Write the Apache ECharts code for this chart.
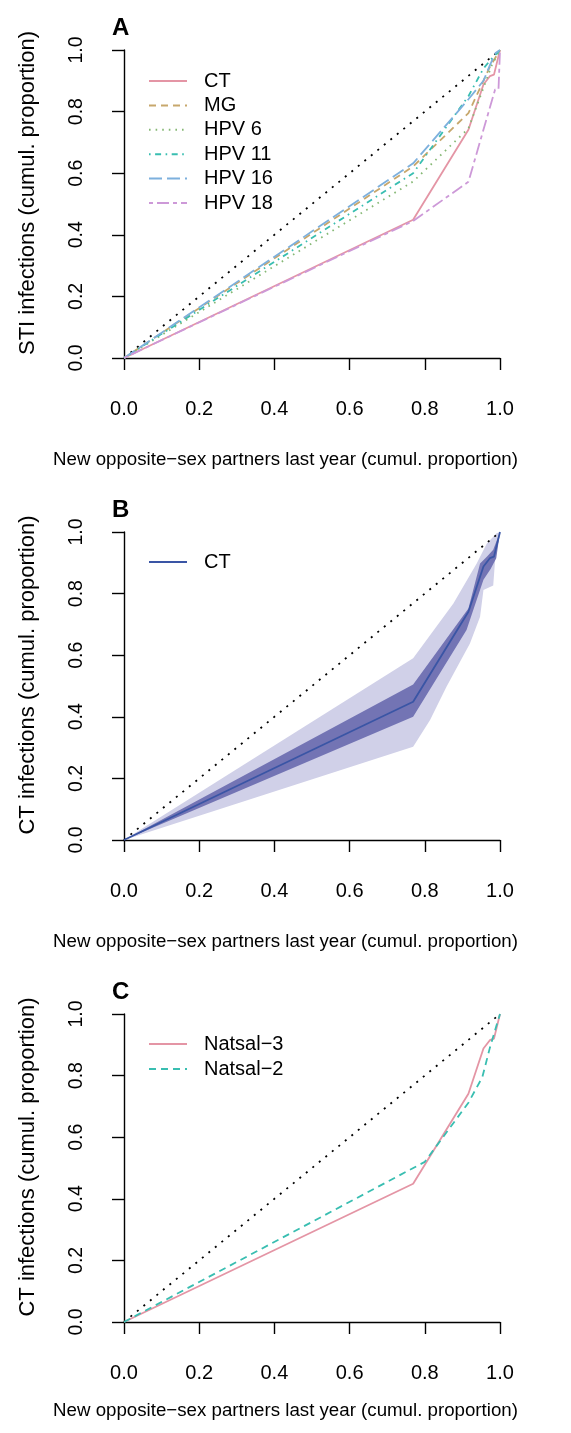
<!DOCTYPE html>
<html>
<head>
<meta charset="utf-8">
<script src="https://cdn.jsdelivr.net/npm/echarts@6/dist/echarts.min.js"></script>
<style>
  html, body { margin: 0; padding: 0; background: #fff; }
  #chart { width: 571px; height: 1433px; }
</style>
</head>
<body>
<div id="chart"></div>
<script>
// cumulative proportion pairs [partners, infections]
const ctPts    = [[0, 0], [0.769, 0.449], [0.916, 0.741], [0.956, 0.888], [0.973, 0.915], [0.984, 0.92], [1, 1]];
const mgPts    = [[0, 0], [0.769, 0.622], [0.916, 0.795], [0.973, 0.945], [1, 1]];
const hpv6Pts  = [[0, 0], [0.769, 0.573], [0.916, 0.745], [0.978, 0.95], [1, 1]];
const hpv11Pts = [[0, 0], [0.769, 0.60], [0.916, 0.85], [0.956, 0.94], [0.973, 0.965], [1, 1]];
const hpv16Pts = [[0, 0], [0.769, 0.632], [0.916, 0.84], [0.956, 0.90], [0.973, 0.95], [0.988, 0.99], [1, 1]];
const hpv18Pts = [[0, 0], [0.769, 0.445], [0.916, 0.572], [0.987, 0.872], [0.996, 0.872], [1, 1]];
const diagPts  = [[0, 0], [1, 1]];

// panel B uncertainty bands
const innerUpper = [[0, 0], [0.769, 0.505], [0.916, 0.752], [0.947, 0.898], [0.965, 0.92], [0.982, 0.942], [1, 1]];
const innerLower = [[0, 0], [0.769, 0.40], [0.911, 0.682], [0.956, 0.845], [0.975, 0.88], [0.99, 0.915], [1, 1]];
const outerUpper = [[0, 0], [0.769, 0.59], [0.876, 0.768], [0.938, 0.898], [0.965, 0.963], [0.991, 0.996], [1, 1]];
const outerLower = [[0, 0], [0.769, 0.303], [0.814, 0.39], [0.858, 0.498], [0.92, 0.638], [0.947, 0.725],
                    [0.956, 0.812], [0.982, 0.826], [0.987, 0.909], [1, 1]];

// panel C
const natsal2Pts = [[0, 0], [0.80, 0.52], [0.916, 0.712], [0.953, 0.795], [0.973, 0.89], [0.99, 0.96], [1, 1]];

const xTitle = 'New opposite\u2212sex partners last year (cumul. proportion)';
const yTitles = ['STI infections (cumul. proportion)', 'CT infections (cumul. proportion)', 'CT infections (cumul. proportion)'];
const panelLetters = ['A', 'B', 'C'];

const FONT = '"Liberation Sans", Arial, Helvetica, sans-serif';
const gridTops = [50, 532, 1014];
const xTitleTops = [445, 927, 1396];

const myChart = echarts.init(document.getElementById('chart'));

const grids = [], xAxes = [], yAxes = [], titles = [];
gridTops.forEach((top, i) => {
  grids.push({ left: 124, top: top, width: 376, height: 308 });
  xAxes.push({
    gridIndex: i, type: 'value', min: 0, max: 1, interval: 0.2, offset: 12,
    axisLine: { lineStyle: { color: '#000', width: 1.4 } },
    axisTick: { length: 12, lineStyle: { color: '#000', width: 1.4 } },
    axisLabel: { margin: 29, color: '#000', fontSize: 20, fontFamily: FONT,
                 formatter: v => v.toFixed(1) },
    splitLine: { show: false }
  });
  yAxes.push({
    gridIndex: i, type: 'value', min: 0, max: 1, interval: 0.2, offset: 15,
    axisLine: { lineStyle: { color: '#000', width: 1.4 } },
    axisTick: { length: 12, lineStyle: { color: '#000', width: 1.4 } },
    axisLabel: { margin: 22, rotate: 90, color: '#000', fontSize: 19.5, fontFamily: FONT,
                 formatter: v => v.toFixed(1) },
    splitLine: { show: false },
    name: yTitles[i], nameLocation: 'middle', nameGap: 70,
    nameTextStyle: { color: '#000', fontSize: 22, fontFamily: FONT, padding: [0, 0, 0, 22] }
  });
  titles.push({
    text: panelLetters[i], left: 107, top: top - 39,
    textStyle: { fontSize: 24, fontWeight: 'bold', color: '#000', fontFamily: FONT }
  });
  titles.push({
    text: xTitle, left: 'center', top: xTitleTops[i],
    textStyle: { fontSize: 18.7, fontWeight: 'normal', color: '#000', fontFamily: FONT }
  });
});

function lineSeries(name, pts, gi, color, dash, z) {
  return {
    name: name, type: 'line', xAxisIndex: gi, yAxisIndex: gi, data: pts,
    symbol: 'none', silent: true, z: z || 2,
    lineStyle: { color: color, width: 1.8, type: dash || 'solid' },
    itemStyle: { color: color }
  };
}

function bandSeries(upper, lower, gi, color) {
  return {
    type: 'custom', xAxisIndex: gi, yAxisIndex: gi, data: [[0, 0]], silent: true, z: 1,
    renderItem: (params, api) => {
      const pts = upper.concat(lower.slice().reverse()).map(p => api.coord(p));
      return { type: 'polygon', shape: { points: pts }, style: { fill: color } };
    }
  };
}

const dotted = [2, 6.4];
const series = [
  lineSeries('diag-A', diagPts, 0, '#000', dotted),
  lineSeries('CT', ctPts, 0, '#E495A5'),
  lineSeries('MG', mgPts, 0, '#C7A76C', [7, 5]),
  lineSeries('HPV 6', hpv6Pts, 0, '#86B875', [1.6, 5]),
  lineSeries('HPV 11', hpv11Pts, 0, '#39BEB1', [1.6, 4.5, 6, 4.5]),
  lineSeries('HPV 16', hpv16Pts, 0, '#7DB0DD', [13, 5]),
  lineSeries('HPV 18', hpv18Pts, 0, '#CD99D8', [4, 4, 12, 4]),

  bandSeries(outerUpper, outerLower, 1, '#D0D0E8'),
  bandSeries(innerUpper, innerLower, 1, '#7374B4'),
  lineSeries('diag-B', diagPts, 1, '#000', dotted, 3),
  lineSeries('CT (B)', ctPts, 1, '#3A55A5', null, 4),

  lineSeries('diag-C', diagPts, 2, '#000', dotted),
  lineSeries('Natsal\u22123', ctPts, 2, '#E495A5'),
  lineSeries('Natsal\u22122', natsal2Pts, 2, '#39BEB1', [7, 5])
];

function makeLegend(top, names, gap, fmt) {
  const lg = {
    orient: 'vertical', left: 148, top: top, padding: 0,
    itemWidth: 38, itemHeight: 14, itemGap: gap,
    selectedMode: false, data: names,
    itemStyle: { opacity: 0 },
    textStyle: { fontSize: 20, color: '#000', fontFamily: FONT, padding: [0, 0, 0, 12] }
  };
  if (fmt) lg.formatter = fmt;
  return lg;
}

myChart.setOption({
  animation: false,
  backgroundColor: '#fff',
  title: titles,
  grid: grids,
  xAxis: xAxes,
  yAxis: yAxes,
  legend: [
    makeLegend(71, ['CT', 'MG', 'HPV 6', 'HPV 11', 'HPV 16', 'HPV 18'], 4.4),
    makeLegend(552, ['CT (B)'], 4.4, n => n.replace(' (B)', '')),
    makeLegend(1034, ['Natsal\u22123', 'Natsal\u22122'], 5)
  ],
  series: series
});
</script>
</body>
</html>
